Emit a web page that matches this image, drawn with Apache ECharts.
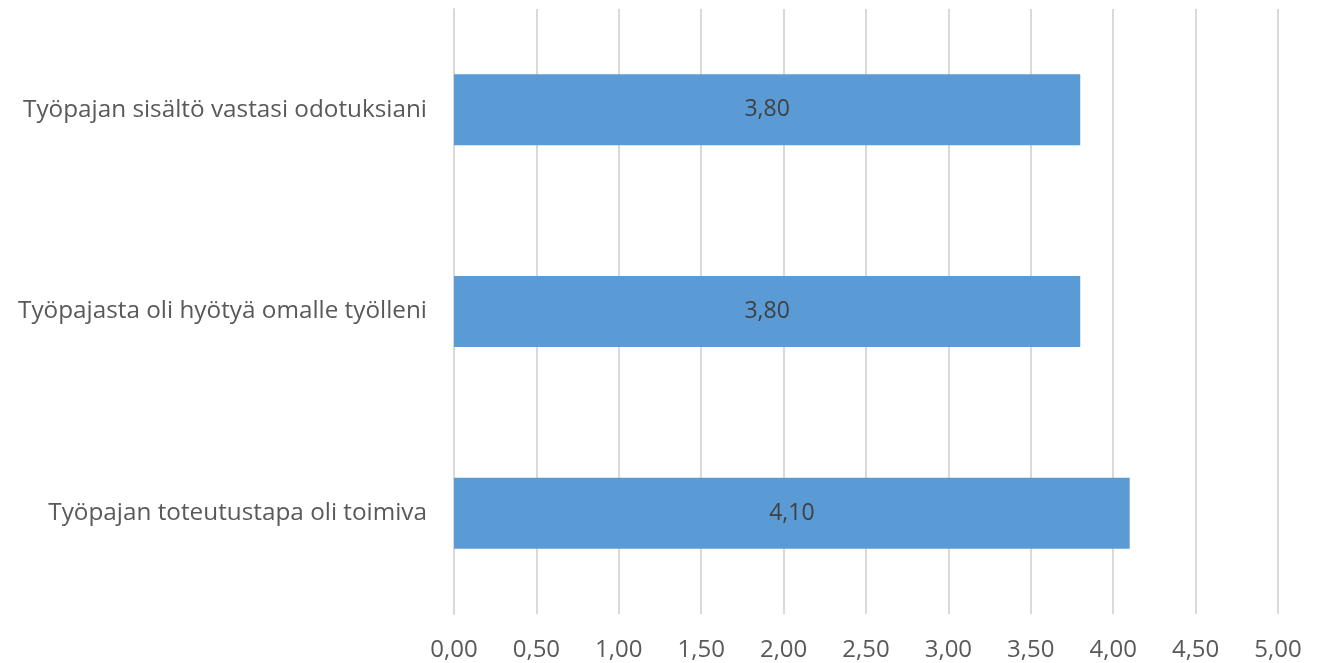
<!DOCTYPE html>
<html>
<head>
<meta charset="utf-8">
<script src="https://cdn.jsdelivr.net/npm/echarts@6/dist/echarts.min.js"></script>
<style>
html,body{margin:0;padding:0;background:#fff;}
#chart{width:1319px;height:663px;}
</style>
</head>
<body>
<div id="chart"></div>
<script>
const categories = [
  "Työpajan toteutustapa oli toimiva",
  "Työpajasta oli hyötyä omalle työlleni",
  "Työpajan sisältö vastasi odotuksiani"
];
const values = [4.10, 3.80, 3.80];
const xMin = 0, xMax = 5, xInterval = 0.5;

const fmt = v => v.toFixed(2).replace('.', ',');
const FONT = '"Open Sans", sans-serif';

const chart = echarts.init(document.getElementById('chart'), null, {renderer: 'canvas'});
chart.setOption({
  animation: false,
  backgroundColor: '#ffffff',
  grid: {left: 454, right: 41, top: 9, bottom: 49, containLabel: false},
  xAxis: {
    type: 'value',
    min: xMin, max: xMax, interval: xInterval,
    axisLine: {show: false},
    axisTick: {show: false},
    splitLine: {show: true, lineStyle: {color: '#d9d9d9', width: 2}},
    axisLabel: {
      formatter: v => fmt(v),
      color: '#595959', fontSize: 24, fontFamily: FONT, margin: 24
    }
  },
  yAxis: {
    type: 'category',
    data: categories,
    axisLine: {show: true, lineStyle: {color: '#d9d9d9', width: 2}},
    axisTick: {show: false},
    splitLine: {show: false},
    axisLabel: {color: '#595959', fontSize: 24.3, fontFamily: FONT, margin: 27}
  },
  series: [{
    type: 'bar',
    data: values,
    barWidth: 71,
    itemStyle: {color: '#5b9bd5'},
    label: {
      show: true, position: 'inside',
      formatter: p => fmt(p.value),
      color: '#404040', fontSize: 23, fontFamily: FONT
    }
  }]
});
</script>
</body>
</html>
